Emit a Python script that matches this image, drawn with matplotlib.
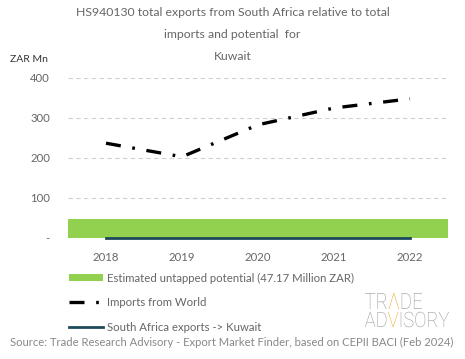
import matplotlib
matplotlib.use("Agg")
import matplotlib.pyplot as plt
from matplotlib.patches import Patch, PathPatch
from matplotlib.lines import Line2D
from matplotlib.textpath import TextPath, TextToPath
from matplotlib.font_manager import FontProperties
from matplotlib.transforms import Affine2D

years = ["2018", "2019", "2020", "2021", "2022"]
imports_world = [237, 203, 283, 325, 348]
sa_exports = [0.3, 0.3, 0.3, 0.3, 0.3]
untapped_potential = 47.17
y_ticks = [0, 100, 200, 300, 400]
y_tick_labels = ["-", "100", "200", "300", "400"]

FONT = "Lato"
GRAY = "#666666"
GREEN = "#92d050"
DARK = "#1d4a5a"

plt.rcParams["font.family"] = [FONT, "DejaVu Sans"]

W, H = 465, 359
fig = plt.figure(figsize=(4.65, 3.59), dpi=100)
ax = fig.add_axes([68/W, 1-238/H, 380/W, 160/H])

x = list(range(len(years)))
ax.axhspan(0, untapped_potential, color=GREEN, zorder=1, lw=0)
ax.plot(x, imports_world, color="black", lw=2.4,
        linestyle=(0, (4.5, 3.5, 0.8, 3.5)), zorder=3)
ax.plot(x, sa_exports, color=DARK, lw=2.0, zorder=4, clip_on=False)

ax.set_xlim(-0.5, 4.5)
ax.set_ylim(0, 400)
ax.set_yticks(y_ticks)
ax.set_yticklabels(y_tick_labels)
ax.set_xticks(x)
ax.set_xticklabels(years)
ax.tick_params(axis="both", length=0, labelsize=8.2, colors=GRAY)
ax.tick_params(axis="x", pad=10)
ax.tick_params(axis="y", pad=13)
for s in ax.spines.values():
    s.set_visible(False)
ax.yaxis.grid(True, linestyle=(0, (4, 3)), color="#d0d0d0", lw=0.8)
ax.set_axisbelow(True)

fig.text(0.5, 1-13/H, "HS940130 total exports from South Africa relative to total",
         ha="center", va="center", fontsize=8.8, color=GRAY)
fig.text(0.5, 1-34/H, "imports and potential  for", ha="center", va="center",
         fontsize=8.8, color=GRAY)
fig.text(0.5, 1-56/H, "Kuwait", ha="center", va="center", fontsize=8.8, color=GRAY)
fig.text(10/W, 1-60/H, "ZAR Mn", ha="left", va="center", fontsize=7.5, color="#333333")

handles = [
    Patch(facecolor=GREEN, edgecolor="none"),
    Line2D([0], [0], color="black", lw=2.4, linestyle=(0, (4.5, 3.5, 0.8, 3.5))),
    Line2D([0], [0], color=DARK, lw=2.0),
]
labels = ["Estimated untapped potential (47.17 Million ZAR)",
          "Imports from World",
          "South Africa exports -> Kuwait"]
leg = fig.legend(handles, labels, loc="upper left",
                 bbox_to_anchor=(64/W, 1-268/H), frameon=False,
                 fontsize=8.2, labelcolor=GRAY, handlelength=3.0, handleheight=0.6,
                 handletextpad=0.4, labelspacing=1.2, borderaxespad=0)

fig.text(232/W, 1-342/H,
         "Source: Trade Research Advisory - Export Market Finder, based on CEPII BACI (Feb 2024)",
         ha="center", va="center", fontsize=8.1, color="#888888")

# logo as condensed text paths
LG = "#9a9a9a"
OR = "#f0a830"
fp = FontProperties(family="Roboto", weight="light", size=100)
ttp = TextToPath()
cap_h = TextPath((0, 0), "T", prop=fp).get_extents().height

def draw_word(parts, x0, x1, top, base):
    xoff = 0.0
    paths = []
    for txt, col in parts:
        p = TextPath((xoff, 0), txt, prop=fp)
        paths.append((p, col))
        w, h, d = ttp.get_text_width_height_descent(txt, fp, ismath=False)
        xoff += w
    xmin = min(p.get_extents().x0 for p, _ in paths)
    xmax = max(p.get_extents().x1 for p, _ in paths)
    sx = (x1 - x0) / (xmax - xmin)
    sy = (base - top) / cap_h
    tr = Affine2D().translate(-xmin, 0).scale(sx, sy).translate(x0, H - base)
    for p, col in paths:
        fig.add_artist(PathPatch(p, facecolor=col, edgecolor="none", transform=tr))

draw_word([("TR", LG), ("Λ", OR), ("DE", LG)], 365, 422, 293, 309)
draw_word([("AD", LG), ("V", OR), ("ISORY", LG)], 365, 449, 312, 327)

fig.savefig("out.png", dpi=100)
